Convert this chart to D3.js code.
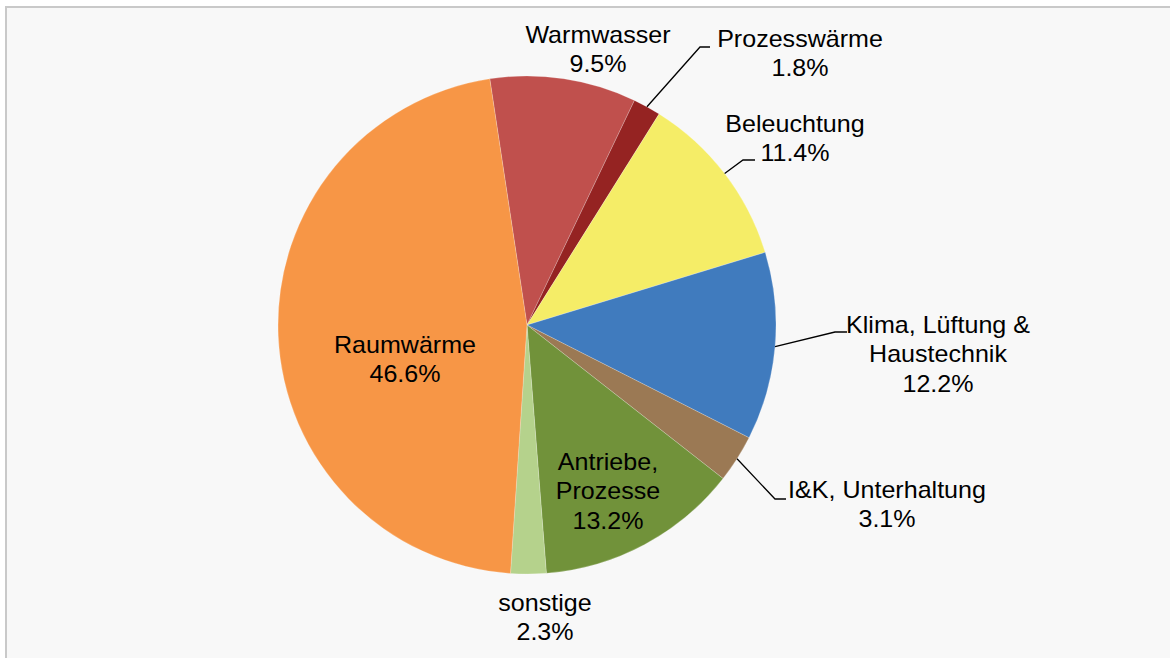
<!DOCTYPE html>
<html>
<head>
<meta charset="utf-8">
<script src="https://cdn.jsdelivr.net/npm/d3@7"></script>
<style>
  html, body { margin: 0; padding: 0; background: #ffffff; }
  svg { display: block; }
  text { font-family: "Liberation Sans", Arial, sans-serif; fill: #000; }
</style>
</head>
<body>
<svg id="chart" width="1170" height="658"></svg>
<script>
// data (clockwise from the top-left boundary)
const categories = ["Warmwasser", "Prozesswärme", "Beleuchtung", "Klima, Lüftung & Haustechnik",
  "I&K, Unterhaltung", "Antriebe, Prozesse", "sonstige", "Raumwärme"];
const shares = [9.5, 1.8, 11.4, 12.2, 3.1, 13.2, 2.3, 46.6];
const labelLines = [["Warmwasser"], ["Prozesswärme"], ["Beleuchtung"], ["Klima, Lüftung &", "Haustechnik"],
  ["I&K, Unterhaltung"], ["Antriebe,", "Prozesse"], ["sonstige"], ["Raumwärme"]];

const colors = ["#C0504D", "#952322", "#F5ED67", "#407BBE", "#9B7954", "#71923A", "#B5D28C", "#F79646"];

// label layout: text block centre x, first baseline y, optional leader elbow/end
const labelLayout = [
  {x: 598, y: 43},
  {x: 800, y: 47, leader: [[700, 47], [710, 47]]},
  {x: 795, y: 132, leader: [[743, 160], [755, 160]]},
  {x: 938, y: 333, leader: [[835, 332], [847, 332]]},
  {x: 887, y: 498, leader: [[775, 499], [786, 499]]},
  {x: 608, y: 470},
  {x: 545, y: 611},
  {x: 405, y: 353}
];

const Width = 1170, Height = 658;
const CX = 527, CY = 325, Radius = 249;
const LineH = 29.5;
const StretchX = 1.09; // labels in the source are slightly wide

const svg = d3.select("#chart");

// chart area frame
svg.append("rect")
  .attr("x", 6).attr("y", 7)
  .attr("width", Width + 20).attr("height", Height + 20)
  .attr("fill", "#F8F8F8")
  .attr("stroke", "#C9C9C9")
  .attr("stroke-width", 2);

const pie = d3.pie()
  .sort(null)
  .value(d => d)
  .startAngle(-8.6 * Math.PI / 180)
  .endAngle(-8.6 * Math.PI / 180 + 2 * Math.PI);

const arcs = pie(shares);
const arc = d3.arc().innerRadius(0).outerRadius(Radius);

const g = svg.append("g").attr("transform", `translate(${CX},${CY})`);

g.selectAll("path")
  .data(arcs)
  .join("path")
  .attr("d", arc)
  .attr("fill", (d, i) => colors[i])
  .attr("stroke", "rgba(255,255,255,0.35)")
  .attr("stroke-width", 0.6);

// leader lines
const edgePoint = d => {
  const a = (d.startAngle + d.endAngle) / 2;
  return [CX + Radius * Math.sin(a), CY - Radius * Math.cos(a)];
};
const lineGen = d3.line();
arcs.forEach((d, i) => {
  const L = labelLayout[i];
  if (!L.leader) return;
  svg.append("path")
    .attr("d", lineGen([edgePoint(d), ...L.leader]))
    .attr("fill", "none")
    .attr("stroke", "#000")
    .attr("stroke-width", 1.3);
});

// labels
const fmt = d3.format(".1f");
arcs.forEach((d, i) => {
  const L = labelLayout[i];
  const lines = [...labelLines[i], fmt(shares[i]) + "%"];
  const t = svg.append("text")
    .attr("text-anchor", "middle")
    .attr("font-size", 23)
    .attr("transform", `translate(${L.x},${L.y}) scale(${StretchX},1)`);
  lines.forEach((s, k) => {
    t.append("tspan")
      .attr("x", 0)
      .attr("y", k * LineH)
      .text(s);
  });
});
</script>
</body>
</html>
